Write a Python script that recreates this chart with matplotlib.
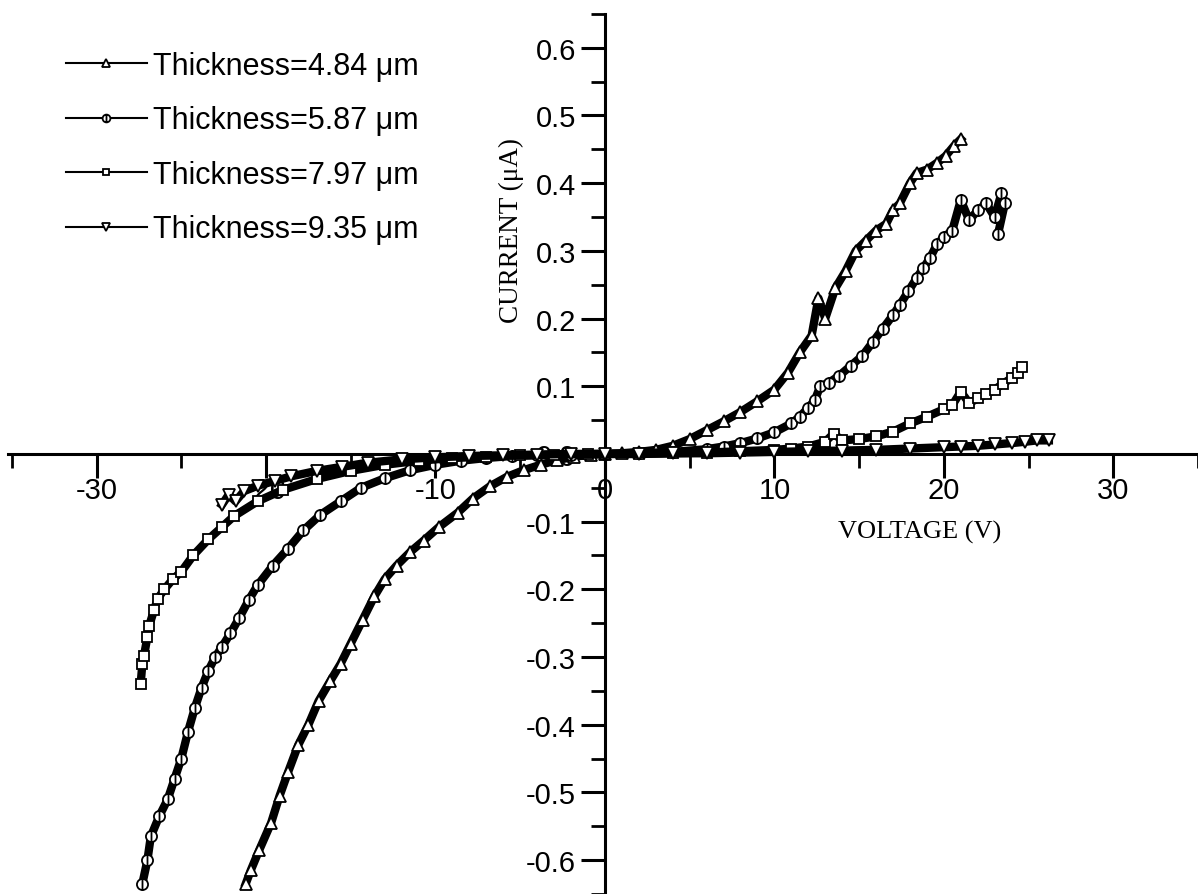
import matplotlib
matplotlib.use('Agg')
import matplotlib.pyplot as plt
from matplotlib.path import Path
from matplotlib.ticker import MultipleLocator, FormatStrFormatter

plt.rcParams['font.family'] = ['Liberation Sans', 'DejaVu Sans']
plt.rcParams['axes.unicode_minus'] = False

# I-V curves (voltage in V, current in uA)
labels = ['Thickness=4.84 \u03bcm', 'Thickness=5.87 \u03bcm',
          'Thickness=7.97 \u03bcm', 'Thickness=9.35 \u03bcm']

v_484 = [-21.2, -20.9, -20.4, -19.7, -19.2, -18.7, -18.1, -17.5, -16.9, -16.2,
         -15.6, -15.0, -14.3, -13.6, -13.0, -12.3, -11.5, -10.7, -9.8, -8.7,
         -7.8, -6.8, -5.8, -4.8, -3.8, -2.8, -1.8, -0.8, 0.0,
         1.0, 2.0, 3.0, 4.0, 5.0, 6.0, 7.0, 8.0, 9.0, 10.0,
         10.8, 11.5, 12.2, 12.6, 13.0, 13.6, 14.2, 14.8, 15.4, 16.0,
         16.6, 17.0, 17.4, 18.0, 18.4, 19.0, 19.6, 20.1, 20.6, 21.0]
i_484 = [-0.635, -0.615, -0.585, -0.545, -0.505, -0.47, -0.43, -0.40, -0.365, -0.335,
         -0.31, -0.28, -0.245, -0.21, -0.185, -0.165, -0.145, -0.128, -0.108, -0.087,
         -0.066, -0.048, -0.034, -0.024, -0.016, -0.009, -0.004, -0.001, 0.0,
         0.001, 0.003, 0.006, 0.012, 0.022, 0.035, 0.048, 0.062, 0.078, 0.095,
         0.12, 0.15, 0.175, 0.23, 0.2, 0.245, 0.27, 0.30, 0.315, 0.33,
         0.34, 0.36, 0.37, 0.40, 0.415, 0.42, 0.43, 0.44, 0.455, 0.465]

v_587 = [-27.3, -27.0, -26.8, -26.3, -25.8, -25.4, -25.0, -24.6, -24.2, -23.8,
         -23.4, -23.0, -22.6, -22.1, -21.6, -21.0, -20.5, -19.6, -18.7, -17.8,
         -16.8, -15.6, -14.4, -13.0, -11.5, -10.0, -8.5, -7.0, -5.5, -4.0,
         -2.0, 0.0, 2.0, 4.0, 6.0, 7.0, 8.0, 9.0, 10.0, 11.0,
         11.5, 12.0, 12.4, 12.7, 13.2, 13.8, 14.5, 15.2, 15.8, 16.4,
         17.0, 17.4, 17.9, 18.4, 18.8, 19.2, 19.6, 20.0, 20.5, 21.0,
         21.5, 22.0, 22.5, 23.0, 23.4, 23.6, 23.2]
i_587 = [-0.635, -0.60, -0.565, -0.535, -0.51, -0.48, -0.45, -0.41, -0.375, -0.345,
         -0.32, -0.30, -0.285, -0.265, -0.243, -0.215, -0.194, -0.165, -0.14, -0.113,
         -0.09, -0.07, -0.05, -0.036, -0.024, -0.016, -0.010, -0.006, -0.003, -0.002,
         -0.001, 0.0, 0.001, 0.003, 0.007, 0.011, 0.016, 0.023, 0.032, 0.045,
         0.055, 0.068, 0.08, 0.1, 0.105, 0.115, 0.13, 0.145, 0.165, 0.185,
         0.205, 0.22, 0.24, 0.26, 0.275, 0.29, 0.31, 0.32, 0.33, 0.375,
         0.345, 0.36, 0.37, 0.35, 0.385, 0.37, 0.325]

v_797 = [-27.4, -27.3, -27.2, -27.0, -26.9, -26.6, -26.4, -26.0, -25.5, -25.0,
         -24.3, -23.4, -22.6, -21.9, -20.5, -19.0, -17.0, -15.0, -13.0, -11.0,
         -9.0, -7.0, -5.0, -3.0, -1.0, 0.0, 2.0, 4.0, 6.0, 8.0,
         10.0, 11.0, 12.0, 13.0, 13.5, 14.0, 15.0, 16.0, 17.0, 18.0,
         19.0, 20.0, 20.5, 21.0, 21.5, 22.0, 22.5, 23.0, 23.5, 24.0,
         24.4, 24.6]
i_797 = [-0.34, -0.31, -0.298, -0.27, -0.254, -0.23, -0.214, -0.2, -0.185, -0.174,
         -0.15, -0.126, -0.108, -0.092, -0.07, -0.053, -0.037, -0.025, -0.016, -0.01,
         -0.006, -0.004, -0.002, -0.001, 0.0, 0.0, 0.0, 0.001, 0.002, 0.004,
         0.006, 0.008, 0.011, 0.018, 0.03, 0.02, 0.022, 0.026, 0.033, 0.045,
         0.055, 0.066, 0.072, 0.092, 0.075, 0.082, 0.088, 0.095, 0.104, 0.112,
         0.12, 0.128]

v_935 = [-22.6, -22.2, -21.8, -21.3, -20.5, -19.5, -18.5, -17.0, -15.5, -14.0,
         -12.0, -10.0, -8.0, -6.0, -4.0, -2.0, 0.0, 2.0, 4.0, 6.0,
         8.0, 10.0, 12.0, 14.0, 16.0, 18.0, 20.0, 21.0, 22.0, 23.0,
         24.0, 24.8, 25.5, 26.2]
i_935 = [-0.075, -0.06, -0.07, -0.055, -0.047, -0.04, -0.033, -0.025, -0.019, -0.013,
         -0.008, -0.005, -0.003, -0.002, -0.001, 0.0, 0.0, 0.0, 0.001, 0.001,
         0.002, 0.003, 0.004, 0.005, 0.006, 0.008, 0.010, 0.011, 0.012, 0.014,
         0.016, 0.018, 0.02, 0.02]

# circle with a vertical bar, like the scan's symbol
oplus = Path.make_compound_path(
    Path.unit_circle(),
    Path([[0, -1], [0, 1]], [Path.MOVETO, Path.LINETO]))

fig = plt.figure(figsize=(11.98, 8.95), dpi=100)
ax = fig.add_axes([0, 0, 1, 1])

series = [(v_484, i_484, '^', 8.5), (v_587, i_587, oplus, 8),
          (v_797, i_797, 's', 7), (v_935, i_935, 'v', 8.5)]
for (v, i, mk, ms), lab in zip(series, labels):
    ax.plot(v, i, color='black', lw=6, marker=mk, ms=ms, mfc='white',
            mec='black', mew=1.3, label=lab, zorder=3)

ax.set_xlim(-35.7, 35.0)
ax.set_ylim(-0.650, 0.672)

for s in ['top', 'right']:
    ax.spines[s].set_visible(False)
ax.spines['left'].set_position(('data', 0))
ax.spines['bottom'].set_position(('data', 0))
ax.spines['left'].set_bounds(-0.65, 0.65)
ax.spines['bottom'].set_bounds(-35.2, 35.0)
for s in ['left', 'bottom']:
    ax.spines[s].set_linewidth(2.2)
ax.set_axisbelow(True)

ax.xaxis.set_major_locator(MultipleLocator(10))
ax.xaxis.set_minor_locator(MultipleLocator(5))
ax.yaxis.set_major_locator(MultipleLocator(0.1))
ax.yaxis.set_minor_locator(MultipleLocator(0.05))
ax.xaxis.set_major_formatter(FormatStrFormatter('%d'))
ax.yaxis.set_major_formatter(FormatStrFormatter('%.1f'))
ax.tick_params(which='major', direction='out', length=17, width=2.2,
               labelsize=21, pad=4)
ax.tick_params(axis='x', which='major', pad=-1)
ax.tick_params(which='minor', direction='out', length=10, width=2)

ax.text(-5.5, 0.332, 'CURRENT (\u03bcA)', rotation=90, ha='center', va='center',
        fontsize=19.5, family='Liberation Serif')
ax.text(18.6, -0.115, 'VOLTAGE (V)', ha='center', va='center',
        fontsize=19, family='Liberation Serif')

leg = ax.legend(loc='upper left', bbox_to_anchor=(0.055, 0.942), frameon=False,
                fontsize=22, handlelength=2.65, handletextpad=0.2,
                labelspacing=0.8, borderpad=0, borderaxespad=0, markerscale=0.7)
for h in leg.get_lines():
    h.set_linewidth(1.5)

fig.savefig('out.png', dpi=100)
